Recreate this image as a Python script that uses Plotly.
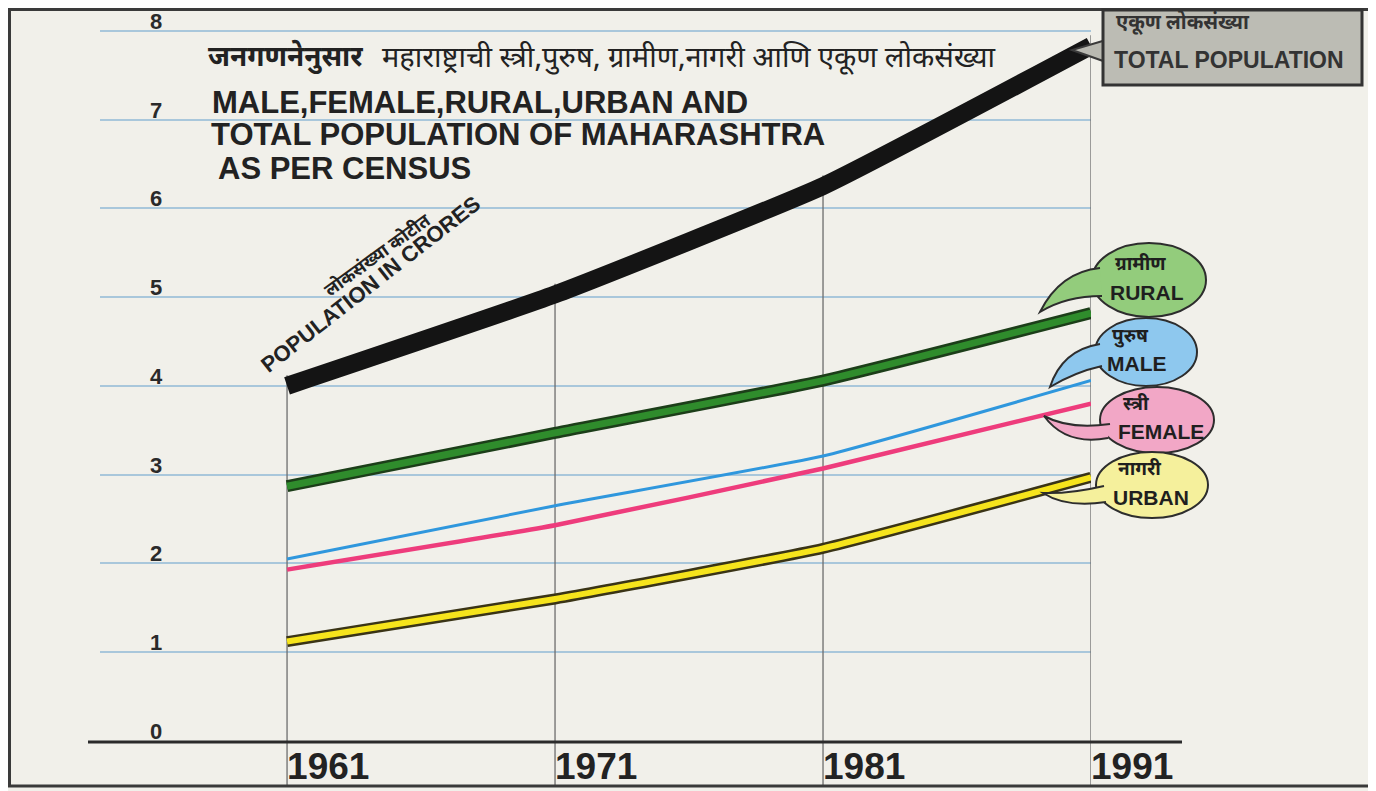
import plotly.graph_objects as go

# ---- data (population in crores) ----
years = [1961, 1971, 1981, 1991]
total = [4.00, 5.03, 6.25, 7.83]
rural = [2.87, 3.47, 4.06, 4.82]
male = [2.05, 2.65, 3.21, 4.06]
female = [1.93, 2.43, 3.07, 3.80]
urban = [1.12, 1.60, 2.17, 2.97]
year_labels = ["1961", "1971", "1981", "1991"]
y_ticks = [0, 1, 2, 3, 4, 5, 6, 7, 8]

# ---- layout geometry (page pixels; the page body adds an 8px offset) ----
OFF = 8
WIDTH, HEIGHT = 1376 - OFF, 791 - OFF
L, R, T, B = 100, 1091, 13, 741          # plot area in page pixels
PW, PH = R - L, B - T


def px(x):
    return (x - L) / PW


def py(y):
    return (B - y) / PH


DEV = "Noto Sans Devanagari, Noto Serif Devanagari, Lohit Devanagari, FreeSerif, Noto Sans, sans-serif"
LAT = "Liberation Sans, Arial, Helvetica, sans-serif"
NAR = "Liberation Sans Narrow, Arial Narrow, Liberation Sans, sans-serif"

fig = go.Figure()

# total
fig.add_trace(go.Scatter(x=years, y=total, mode="lines",
                         line=dict(color="#141414", width=18, shape="spline", smoothing=0.4),
                         hoverinfo="skip"))
# rural (outlined green)
fig.add_trace(go.Scatter(x=years, y=rural, mode="lines",
                         line=dict(color="#1c3e19", width=12, shape="spline", smoothing=0.4),
                         hoverinfo="skip"))
fig.add_trace(go.Scatter(x=years, y=rural, mode="lines",
                         line=dict(color="#2f8c2c", width=7, shape="spline", smoothing=0.4),
                         hoverinfo="skip"))
# male
fig.add_trace(go.Scatter(x=years, y=male, mode="lines",
                         line=dict(color="#2f97dd", width=3, shape="spline", smoothing=0.4),
                         hoverinfo="skip"))
# female
fig.add_trace(go.Scatter(x=years, y=female, mode="lines",
                         line=dict(color="#ee3c7c", width=4.5, shape="spline", smoothing=0.4),
                         hoverinfo="skip"))
# urban (outlined yellow)
fig.add_trace(go.Scatter(x=years, y=urban, mode="lines",
                         line=dict(color="#3a3416", width=11, shape="spline", smoothing=0.4),
                         hoverinfo="skip"))
fig.add_trace(go.Scatter(x=years, y=urban, mode="lines",
                         line=dict(color="#f6e41c", width=6, shape="spline", smoothing=0.4),
                         hoverinfo="skip"))

shapes = []
# vertical year lines
for yr, tv in zip(years, total):
    shapes.append(dict(type="line", xref="x", yref="y", x0=yr, x1=yr, y0=0, y1=tv + 0.12,
                       line=dict(color="#6d6d6d", width=1.3), layer="between"))
    shapes.append(dict(type="line", xref="x", yref="paper", x0=yr, x1=yr, y0=py(785), y1=0,
                       line=dict(color="#6d6d6d", width=1.3), layer="between"))
# baseline
shapes.append(dict(type="line", xref="paper", yref="paper", x0=px(88), x1=px(1182), y0=py(742), y1=py(742),
                   line=dict(color="#2b2b2b", width=3), layer="above"))
# frame
shapes.append(dict(type="rect", xref="paper", yref="paper", x0=px(9.5), x1=px(1370), y0=py(786), y1=py(9.5),
                   line=dict(color="#3a3a3a", width=3), fillcolor="rgba(0,0,0,0)", layer="above"))

# total population box with pointer
shapes.append(dict(type="path", xref="paper", yref="paper",
                   path=f"M {px(1106)} {py(40)} L {px(1072)} {py(50)} L {px(1106)} {py(62)} Z",
                   fillcolor="#b9b9b1", line=dict(color="#3a3a3a", width=2), layer="above"))
shapes.append(dict(type="rect", xref="paper", yref="paper", x0=px(1103), x1=px(1362), y0=py(85), y1=py(10),
                   fillcolor="#bcbcb4", line=dict(color="#333333", width=3), layer="above"))

# bubbles: (cx, cy, rx, ry, fill, tail path points)
bubbles = [
    (1149, 280, 57, 37, "#93cc7c", [(1100, 268), (1060, 272), (1040, 312), (1066, 296), (1102, 296)]),
    (1146, 352, 51, 34, "#8ec8ee", [(1100, 344), (1062, 350), (1050, 387), (1075, 372), (1102, 366)]),
    (1157, 420, 57, 33, "#f2a7c6", [(1108, 438), (1066, 446), (1044, 416), (1070, 430), (1110, 424)]),
    (1152, 485, 56, 33, "#f5f09c", [(1106, 502), (1066, 508), (1043, 493), (1070, 494), (1104, 486)]),
]
for cx, cy, rx, ry, col, t in bubbles:
    shapes.append(dict(type="circle", xref="paper", yref="paper",
                       x0=px(cx - rx), x1=px(cx + rx), y0=py(cy + ry), y1=py(cy - ry),
                       fillcolor=col, line=dict(color="#2d2d2d", width=2), layer="above"))
    (a, c1, tip, c2, b) = t
    shapes.append(dict(type="path", xref="paper", yref="paper",
                       path=(f"M {px(a[0])} {py(a[1])} Q {px(c1[0])} {py(c1[1])} {px(tip[0])} {py(tip[1])} "
                             f"Q {px(c2[0])} {py(c2[1])} {px(b[0])} {py(b[1])}"),
                       fillcolor=col, line=dict(color="#2d2d2d", width=2), layer="above"))

annotations = []


def add_text(x, y, text, size, family=LAT, color="#222222", bold=True, anchor="left", angle=0, yanchor="middle"):
    annotations.append(dict(xref="paper", yref="paper", x=px(x), y=py(y), text=text, showarrow=False,
                            xanchor=anchor, yanchor=yanchor, textangle=angle,
                            font=dict(size=size, family=family, color=color,
                                      weight="bold" if bold else "normal")))


# y tick labels (sit just above their gridlines)
for v in y_ticks:
    annotations.append(dict(xref="paper", yref="y", x=px(156), y=v, text=str(v), showarrow=False,
                            xanchor="center", yanchor="bottom", yshift=-4, borderpad=0,
                            font=dict(size=22, family=LAT, color="#2a2a2a", weight="bold")))

# titles
add_text(206, 58, "जनगणनेनुसार", 28, family=DEV)
add_text(380, 60, "महाराष्ट्राची स्त्री,पुरुष, ग्रामीण,नागरी आणि एकूण लोकसंख्या", 29, family=DEV, bold=False)
add_text(210, 102, "MALE,FEMALE,RURAL,URBAN AND", 31)
add_text(209, 135, "TOTAL POPULATION OF MAHARASHTRA", 31)
add_text(216, 168, "AS PER CENSUS", 31)

# rotated y-axis title
annotations.append(dict(xref="paper", yref="paper", x=px(378), y=py(256), text="लोकसंख्या कोटीत",
                        showarrow=False, textangle=-36, xanchor="center", yanchor="middle",
                        font=dict(size=18, family=DEV, color="#222222", weight="bold")))
annotations.append(dict(xref="paper", yref="paper", x=px(370), y=py(284), text="POPULATION IN CRORES",
                        showarrow=False, textangle=-38, xanchor="center", yanchor="middle",
                        font=dict(size=22, family=LAT, color="#222222", weight="bold")))

# total box text
add_text(1114, 24, "एकूण लोकसंख्या", 20, family=DEV, color="#333333")
add_text(1112, 60, "TOTAL POPULATION", 23, color="#333333")

# bubble text
bubble_text = [("ग्रामीण", "RURAL", 1149, 280), ("पुरुष", "MALE", 1146, 352),
               ("स्त्री", "FEMALE", 1157, 420), ("नागरी", "URBAN", 1152, 485)]
for dv, en, cx, cy in bubble_text:
    add_text(cx - 36, cy - 15, dv, 19, family=DEV, color="#1f1f1f")
    add_text(cx - 41, cy + 12, en, 21, color="#1f1f1f")

fig.update_layout(
    template="none",
    width=WIDTH, height=HEIGHT,
    margin=dict(l=L - OFF, r=WIDTH - (R - OFF), t=T - OFF, b=HEIGHT - (B - OFF), autoexpand=False),
    paper_bgcolor="#f1f0ea", plot_bgcolor="rgba(0,0,0,0)",
    showlegend=False,
    shapes=shapes, annotations=annotations,
    xaxis=dict(range=[1954.02, 1991], tickvals=years, ticktext=year_labels, automargin=False,
               ticklabelposition="outside right", ticks="", showgrid=False,
               zeroline=False, showline=False,
               tickfont=dict(size=37, family=NAR, color="#222222", weight="bold"),
               fixedrange=True),
    yaxis=dict(range=[0, 8.2], tickvals=y_ticks, showticklabels=False, automargin=False, ticks="",
               showgrid=True, gridcolor="#a9c7db", gridwidth=1.5, zeroline=False, showline=False,
               fixedrange=True),
)

fig.write_html("out.html")
